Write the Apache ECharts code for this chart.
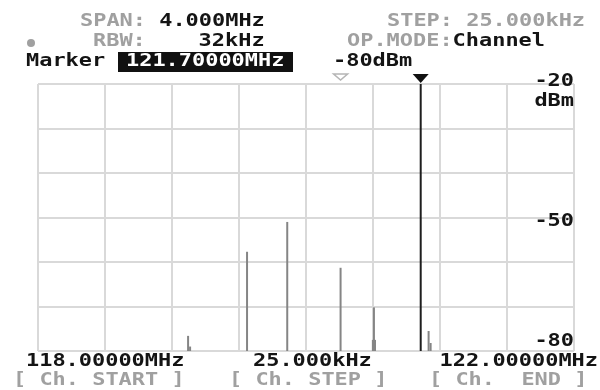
<!DOCTYPE html>
<html>
<head>
<meta charset="utf-8">
<script src="https://cdn.jsdelivr.net/npm/echarts@6/dist/echarts.min.js"></script>
<style>
html, body { margin: 0; background: #fff; }
#main { width: 600px; height: 390px; }
</style>
</head>
<body>
<div id="main"></div>
<script>
// spectrum peaks (MHz, dBm)
var freqs  = [119.12, 119.135, 119.56, 119.86, 120.258, 120.499, 120.507, 120.515, 120.915, 120.93];
var levels = [-76.6, -79.0, -57.7, -51.0, -61.3, -77.5, -70.2, -77.5, -75.5, -78.2];
var markerFreq = 120.856;
var refIndex = 4;           // hollow triangle sits over this peak
var freqMin = 118, freqMax = 122, freqStep = 0.5;
var levelMin = -80, levelMax = -20, levelStep = 10;
var levelLabels = [-20, -50, -80];

var charW = 10.23, sx = 1.29;
var gray = '#a0a0a0', ink = '#141414';
var font = 'bold 17px "DejaVu Sans Mono"';

var chart = echarts.init(document.getElementById('main'));

function spike(color, width) {
    return function (params, api) {
        var top = api.coord([api.value(0), api.value(1)]);
        var base = api.coord([api.value(0), levelMin]);
        return {
            type: 'line',
            shape: {x1: top[0], y1: top[1], x2: base[0], y2: base[1]},
            style: {stroke: color, lineWidth: width}
        };
    };
}

var gridLine = {lineStyle: {color: '#d9d9d9', width: 2}};
var option = {
    animation: false,
    grid: {left: 38, right: 26, top: 84, bottom: 39},
    xAxis: {
        type: 'value', min: freqMin, max: freqMax, interval: freqStep,
        axisLine: {show: false}, axisTick: {show: false}, axisLabel: {show: false},
        splitLine: gridLine
    },
    yAxis: {
        type: 'value', min: levelMin, max: levelMax, interval: levelStep,
        axisLine: {show: false}, axisTick: {show: false}, axisLabel: {show: false},
        splitLine: gridLine
    },
    series: [
        {
            type: 'custom',
            renderItem: spike('#858585', 2),
            encode: {x: 0, y: 1},
            data: freqs.map(function (f, i) { return [f, levels[i]]; })
        },
        {
            type: 'custom',
            renderItem: spike('#1e1e1e', 2),
            encode: {x: 0, y: 1},
            data: [[markerFreq, levelMax]]
        }
    ]
};
chart.setOption(option);

function txt(x, y, str, color, align) {
    return {
        type: 'text', x: x, y: y, scaleX: sx,
        style: {text: str, fill: color, font: font, align: align || 'left', verticalAlign: 'middle'}
    };
}
// several coloured pieces written one after another
function line(x, y, parts) {
    var out = [];
    parts.forEach(function (p) {
        out.push(txt(x, y, p[0], p[1]));
        x += p[0].length * charW * sx;
    });
    return out;
}

var mx = chart.convertToPixel({xAxisIndex: 0}, markerFreq);
var rx = chart.convertToPixel({xAxisIndex: 0}, freqs[refIndex]);
var right = chart.convertToPixel({xAxisIndex: 0}, freqMax);

var g = [];
g = g.concat(line(80, 22, [['SPAN: ', gray], ['4.000MHz', ink]]));
g = g.concat(line(387, 22, [['STEP: 25.000kHz', gray]]));
g = g.concat(line(93, 42, [['RBW:    ', gray], ['32kHz', ink]]));
g = g.concat(line(347, 42, [['OP.MODE:', gray], ['Channel', ink]]));
g.push({type: 'circle', shape: {cx: 31, cy: 43, r: 4}, style: {fill: '#a0a0a0'}});
g = g.concat(line(26, 62, [['Marker', ink]]));
g.push({type: 'rect', shape: {x: 118, y: 52, width: 175, height: 20}, style: {fill: '#111'}});
g.push(txt(126, 62, '121.70000MHz', '#fff'));
g = g.concat(line(333, 62, [['-80dBm', ink]]));

g.push({type: 'polygon', shape: {points: [[mx - 8, 74], [mx + 8, 74], [mx, 83]]}, style: {fill: '#111'}});
g.push({type: 'polygon', shape: {points: [[rx - 7, 74], [rx + 7, 74], [rx, 80]]},
        style: {fill: 'none', stroke: '#b5b5b5', lineWidth: 1.5}});

var offs = {'-20': -2, '-50': 4, '-80': -9};
levelLabels.forEach(function (v) {
    var y = chart.convertToPixel({yAxisIndex: 0}, v);
    g.push(txt(right, y + offs[v], String(v), ink, 'right'));
});
g.push(txt(right, chart.convertToPixel({yAxisIndex: 0}, levelMax) + 18, 'dBm', ink, 'right'));

g = g.concat(line(26, 362, [['118.00000MHz', ink]]));
g = g.concat(line(253, 362, [['25.000kHz', ink]]));
g.push(txt(598, 362, '122.00000MHz', ink, 'right'));
g = g.concat(line(13, 381, [['[ Ch. START ]', gray]]));
g = g.concat(line(229, 381, [['[ Ch. STEP ]', gray]]));
g = g.concat(line(429, 381, [['[ Ch.  END ]', gray]]));

chart.setOption({graphic: g});
window.onresize = chart.resize;
</script>
</body>
</html>
